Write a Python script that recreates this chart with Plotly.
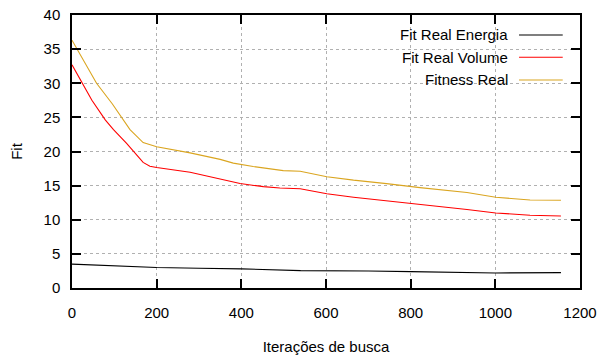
import plotly.graph_objects as go

# Data
x_energia = [0, 100, 200, 300, 400, 540, 600, 700, 800, 900, 1000, 1155]
fit_energia = [3.5, 3.2, 3.0, 2.9, 2.8, 2.55, 2.55, 2.5, 2.4, 2.3, 2.2, 2.25]

x_volume = [0, 24, 47, 79, 98, 129, 153, 168, 184, 200, 279, 350, 397, 452, 491,
            539, 602, 665, 743, 822, 933, 1001, 1082, 1155]
fit_volume = [32.7, 30.1, 27.5, 24.6, 23.2, 21.2, 19.4, 18.4, 17.85, 17.65, 16.95, 16.0,
              15.3, 14.85, 14.65, 14.55, 13.8, 13.3, 12.8, 12.2, 11.5, 11.0, 10.65, 10.55]

x_fitness = [0, 12, 58, 95, 137, 168, 200, 279, 350, 381, 428, 499, 539, 602, 665,
             743, 822, 933, 1001, 1082, 1155]
fitness = [36.3, 35.0, 30.0, 27.0, 23.2, 21.3, 20.7, 19.8, 18.85, 18.3, 17.8, 17.2,
           17.1, 16.3, 15.8, 15.3, 14.7, 14.0, 13.3, 12.9, 12.85]

series_names = ["Fit Real Energia", "Fit Real Volume", "Fitness Real"]
series_colors = ["#000000", "#ff0000", "#daa520"]

x_ticks = [0, 200, 400, 600, 800, 1000, 1200]
y_ticks = [0, 5, 10, 15, 20, 25, 30, 35, 40]

FONT = "Liberation Sans, Arial, sans-serif"
FS = 15

fig = go.Figure()
for xs, ys, name, color in zip([x_energia, x_volume, x_fitness],
                               [fit_energia, fit_volume, fitness],
                               series_names, series_colors):
    fig.add_trace(go.Scatter(x=xs, y=ys, mode="lines", name=name,
                             line=dict(color=color, width=1.1), showlegend=False))

# manual legend (gnuplot style: text right-aligned, sample to the right)
fig.add_shape(type="rect", xref="paper", yref="paper", x0=0.587, x1=0.995, y0=0.722, y1=0.995,
              fillcolor="white", line=dict(width=0), layer="between")
legend_y = [0.927, 0.845, 0.762]
for name, color, ly in zip(series_names, series_colors, legend_y):
    fig.add_annotation(x=0.862, y=ly, xref="paper", yref="paper", text=name, showarrow=False,
                       xanchor="right", yanchor="middle", font=dict(size=FS, color="#000", family=FONT))
    fig.add_shape(type="line", xref="paper", yref="paper", x0=0.880, x1=0.966, y0=ly, y1=ly,
                  line=dict(color=color, width=1.1))

axis_common = dict(
    showline=True, linecolor="#000", linewidth=1.5, mirror="ticks",
    ticks="inside", ticklen=9, tickwidth=1.5, tickcolor="#000",
    showgrid=True, gridcolor="#b0b0b0", griddash="dot", gridwidth=1,
    zeroline=False, tickfont=dict(size=FS, color="#000", family=FONT),
    automargin=False,
)

fig.update_xaxes(range=[0, 1200], tickvals=x_ticks, ticktext=[str(v) for v in x_ticks],
                 title=dict(text="Iterações de busca", font=dict(size=FS, color="#000", family=FONT), standoff=22),
                 ticklabelstandoff=10, **axis_common)
fig.update_yaxes(range=[0, 40], tickvals=y_ticks, ticktext=[str(v) for v in y_ticks],
                 title=dict(text="Fit", font=dict(size=FS, color="#000", family=FONT), standoff=17),
                 ticklabelstandoff=7, **axis_common)

fig.update_layout(
    width=601, height=361,
    margin=dict(l=72, r=21, t=15, b=73, autoexpand=False),
    plot_bgcolor="white", paper_bgcolor="white",
    font=dict(family=FONT, size=FS, color="#000"),
)

fig.write_html("out.html", config={"displayModeBar": False})

# remove default page margin so the figure sits at the window's top-left corner
with open("out.html", "r", encoding="utf-8") as f:
    html = f.read()
html = html.replace("<head>", "<head><style>html,body{margin:0;padding:0;overflow:hidden;}</style>", 1)
with open("out.html", "w", encoding="utf-8") as f:
    f.write(html)
